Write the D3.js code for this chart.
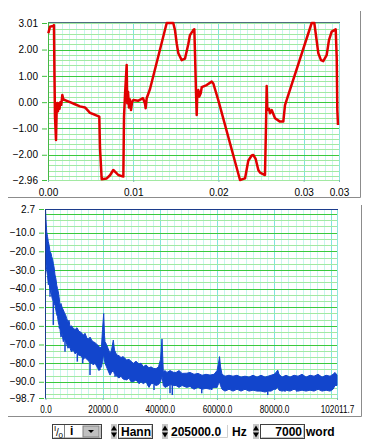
<!DOCTYPE html>
<html>
<head>
<meta charset="utf-8">
<script src="https://cdn.jsdelivr.net/npm/d3@7"></script>
<style>
  body { margin: 0; background: #fff; }
  svg { display: block; font-family: "Liberation Sans", Arial, sans-serif; }
</style>
</head>
<body>
<div id="chart"></div>
<script>
// acquisition settings shown in the control row
const sampleRate = 205000.0;
const wordCount = 7000;
const windowName = "Hann";
const freqEnd = 102011.7;

// time signal (s, value)
const sigTime = [
  0.00004,0.00023,0.00062,0.00070,0.00076,0.00082,0.00094,0.00101,0.00109,0.00117,
  0.00126,0.00135,0.00144,0.00156,0.00168,0.00180,0.00199,0.00258,0.00317,0.00375,
  0.00434,0.00493,0.00551,0.00602,0.00610,0.00630,0.00689,0.00728,0.00766,0.00798,
  0.00825,0.00884,0.00892,0.00904,0.00923,0.00930,0.00939,0.00950,0.00962,0.00974,
  0.00986,0.01001,0.01056,0.01115,0.01138,0.01146,0.01158,0.01197,0.01393,0.01470,
  0.01490,0.01510,0.01529,0.01569,0.01608,0.01646,0.01666,0.01705,0.01717,0.01725,
  0.01737,0.01745,0.01752,0.01764,0.01775,0.01792,0.01804,0.01862,0.01921,0.01940,
  0.01998,0.02253,0.02312,0.02350,0.02390,0.02409,0.02437,0.02468,0.02488,0.02546,
  0.02558,0.02566,0.02573,0.02593,0.02605,0.02625,0.02664,0.02722,0.02761,0.02781,
  0.03094,0.03125,0.03153,0.03172,0.03203,0.03230,0.03270,0.03297,0.03329,0.03376,
  0.03388,0.03395,0.03403
];
const sigValue = [
  2.62,2.87,2.90,2.93,1.00,-0.55,-1.44,-0.40,-0.03,-0.35,
  -0.05,-0.25,0.00,-0.10,0.27,0.10,0.08,0.00,-0.08,-0.16,
  -0.20,-0.41,-0.48,-0.55,-1.74,-2.93,-2.90,-2.78,-2.58,-2.68,
  -2.77,-2.83,-0.55,0.30,1.41,-0.04,0.40,-0.20,0.10,-0.30,
  0.00,0.08,0.05,0.15,-0.05,-0.23,0.15,0.50,3.01,3.01,
  2.74,2.24,1.86,1.60,1.66,2.20,2.55,2.74,2.77,1.86,
  0.35,-0.49,0.34,0.46,0.21,0.34,0.57,0.65,0.78,0.71,
  0.08,-2.96,-2.90,-2.23,-2.03,-2.01,-2.16,-2.58,-2.68,-2.77,
  -0.93,0.61,-0.30,-0.25,-0.42,-0.30,-0.61,-0.74,-0.74,-0.11,
  3.01,3.01,2.33,1.86,1.60,1.56,1.79,2.36,2.68,2.77,
  1.67,-0.30,-0.87
];

// spectrum band (Hz, upper dB, lower dB)
const specFreq = [
  0,175,420,700,980,1295,1575,1925,2170,2450,
  2730,3045,3325,3675,3920,4200,4480,4795,5075,5425,
  5775,6230,6650,7000,7420,7875,8225,8575,9100,9730,
  10325,11025,11725,12075,12775,13230,13825,14525,15225,15575,
  16275,16730,17325,18025,18725,19075,19600,19950,20370,20650,
  20825,21350,21875,22575,23100,23730,24150,24920,25725,26425,
  27125,28420,29225,29925,30730,31675,32725,33425,34230,35175,
  36225,36925,37730,38675,39550,40250,40775,41230,41825,42525,
  43575,44730,45675,46725,47775,49420,50575,51975,53375,54775,
  56175,57575,58975,60025,60550,60900,61250,61775,62825,64225,
  65625,67025,68425,69825,71225,72625,74025,75425,76825,77875,
  78925,79975,80675,81270,81725,82775,84175,85575,86975,88375,
  89775,91175,92575,93975,95375,96775,98175,99575,100625,101325,
  102010
];
const specHigh = [
  2.7,-3,-9.5,-12,-14.8,-17,-20.2,-21,-22.9,-24,
  -26.4,-29,-32.7,-35,-38.1,-40,-41.7,-45,-48.8,-48,
  -50,-51.5,-53,-54,-56,-58,-57,-60.4,-60,-61.3,
  -62,-61,-63,-63.1,-64,-65,-64,-66.7,-67,-66,
  -68,-68.5,-69,-70,-71,-72,-71,-62,-53.3,-65,
  -68.5,-70,-72,-74.7,-73,-67.6,-73,-75.6,-76,-77,
  -76.5,-78.3,-78,-79,-80.1,-79,-80.5,-80,-81.9,-81,
  -82.5,-82,-82.8,-83,-82,-78,-67,-84.6,-84,-85,
  -84,-84.9,-85,-84,-85.5,-85.4,-85,-86,-85.5,-86.5,
  -86,-86.4,-86,-84,-80,-76.5,-82,-86,-87,-86.5,
  -87,-86.5,-87.5,-87,-87.5,-86.5,-87.5,-86.5,-87.5,-87,
  -86.5,-86,-85,-83.7,-86,-87.5,-86.5,-87.5,-86.5,-87,
  -86,-87.5,-86.5,-87,-86,-87.5,-86.5,-87,-86,-85,
  -86.4
];
const specLow = [
  -27,-27,-30,-33,-38,-36,-43,-40,-44,-46,
  -47,-48,-49,-52,-54,-55,-58,-60,-62,-66,
  -64,-68.5,-67,-68,-70,-72,-71,-72,-74,-73,
  -75,-74,-76,-75.6,-77,-78,-77,-78,-79,-80,
  -80,-81,-80,-82,-84,-82.8,-82,-79,-75,-79,
  -80,-82,-84,-86.4,-85,-84,-86,-87,-88,-87,
  -88.5,-89,-88,-90,-90,-89,-91,-90,-91,-90,
  -93,-91,-91,-92,-91.5,-90,-87,-92,-93,-92.5,
  -91.5,-92,-92,-93,-92,-93,-92.5,-94,-93,-94,
  -93.5,-94,-93,-93,-91,-90,-92,-94,-95,-94,
  -95,-94,-95,-94,-95,-94.5,-95,-95,-95.5,-95,
  -95,-94,-94,-93,-94.5,-95,-94.5,-95,-94,-95,
  -94.5,-95,-94.5,-95,-94,-95,-94.5,-95,-94,-92,
  -92
];

// downward noise spikes of the spectrum (Hz, dB)
const spikeFreq = [1575,2730,4830,6825,9975,11130,13020,15575,19075,24325,25830,35980,37975,
  43575,44380,51170,54670,58170,62230,63420,69825,77770,83825,87920,93730,97825];
const spikeDb = [-44.4,-59.5,-61.3,-73.9,-73.9,-79.2,-80.1,-86.4,-83.7,-87.3,-87.8,-90.8,-94.4,
  -96.2,-97.1,-93.5,-96.2,-94.4,-94.4,-94.4,-94.4,-97.1,-95.3,-95.3,-94.4,-94.4];

// tick labels
const timeEnd = wordCount / sampleRate;
const topYTicks = [3.01, 2, 1, 0, -1, -2, -2.96];
const topXTicks = [0, 0.01, 0.02, 0.03, timeEnd];
const botYTicks = [2.7, -10, -20, -30, -40, -50, -60, -70, -80, -90, -98.7];
const botXTicks = [0, 20000, 40000, 60000, 80000, freqEnd];

const svg = d3.select("#chart").append("svg")
  .attr("width", 374)
  .attr("height", 448);

function drawGrid(g, x, y, vMinor, vMajor, hMinor, hMajor) {
  const [y0, y1] = y.range();
  const [x0, x1] = x.range();
  const v = (cls, data, color) => g.selectAll("." + cls).data(data).join("line")
    .attr("class", cls)
    .attr("x1", d => Math.round(x(d)) + 0.5).attr("x2", d => Math.round(x(d)) + 0.5)
    .attr("y1", y0).attr("y2", y1)
    .attr("stroke", color);
  const h = (cls, data, color) => g.selectAll("." + cls).data(data).join("line")
    .attr("class", cls)
    .attr("y1", d => Math.round(y(d)) + 0.5).attr("y2", d => Math.round(y(d)) + 0.5)
    .attr("x1", x0).attr("x2", x1)
    .attr("stroke", color);
  v("vmin", vMinor, "#c8f5ef");
  v("vmaj", vMajor, "#80e4de");
  h("hmin", hMinor, "#a2e9a2");
  h("hmaj", hMajor, "#3cc83c");
  g.selectAll("line").attr("shape-rendering", "crispEdges");
}

// ---------- top panel: signal ----------
const xT = d3.scaleLinear().domain([0, timeEnd]).range([48, 339]);
const yT = d3.scaleLinear().domain([-2.96, 3.01]).range([180, 23]);

const gTop = svg.append("g");
drawGrid(gTop, xT, yT,
  d3.range(1, 41).map(i => i * 0.01 / 12).filter(t => t < timeEnd),
  [0.01, 0.02, 0.03],
  d3.range(-14, 16).map(i => i * 0.2),
  [-2, -1, 0, 1, 2]);

// plot borders
gTop.append("line").attr("x1", 339.5).attr("x2", 339.5).attr("y1", 23).attr("y2", 180).attr("stroke", "#8fe6e0");
gTop.append("line").attr("x1", 48).attr("x2", 340).attr("y1", 180.5).attr("y2", 180.5).attr("stroke", "#a2e9a2");
gTop.append("line").attr("x1", 48).attr("x2", 340).attr("y1", 22.5).attr("y2", 22.5).attr("stroke", "#4d6e80");
gTop.append("line").attr("x1", 48.5).attr("x2", 48.5).attr("y1", 22).attr("y2", 181).attr("stroke", "#44b844");

gTop.append("path")
  .datum(d3.zip(sigTime, sigValue))
  .attr("fill", "none")
  .attr("stroke", "#e00000")
  .attr("stroke-width", 2.5)
  .attr("stroke-linejoin", "round")
  .attr("d", d3.line().x(d => xT(d[0])).y(d => yT(d[1])));

const topY = gTop.append("g")
  .attr("transform", "translate(47,0)")
  .call(d3.axisLeft(yT).tickValues(topYTicks).tickFormat(d3.format(".2f")).tickSize(5).tickPadding(4));
const topX = gTop.append("g")
  .attr("transform", "translate(0,180)")
  .call(d3.axisBottom(xT).tickValues(topXTicks).tickFormat(d3.format(".2f")).tickSize(2).tickPadding(7));

// ---------- bottom panel: spectrum ----------
const xF = d3.scaleLinear().domain([0, freqEnd]).range([45.5, 337]);
const yF = d3.scaleLinear().domain([-98.7, 2.7]).range([398, 209]);

const gBot = svg.append("g");
drawGrid(gBot, xF, yF,
  d3.range(1, 41).map(i => i * 2500).filter(f => f < freqEnd),
  [20000, 40000, 60000, 80000, 100000],
  d3.range(0, 30).map(i => -i * 10 / 3),
  d3.range(0, 10).map(i => -i * 10));

gBot.append("line").attr("x1", 337.5).attr("x2", 337.5).attr("y1", 209).attr("y2", 398).attr("stroke", "#8fe6e0");
gBot.append("line").attr("x1", 45).attr("x2", 338).attr("y1", 398.5).attr("y2", 398.5).attr("stroke", "#a2e9a2");

const spec = specFreq.map((f, i) => ({ f, hi: specHigh[i], lo: specLow[i] }));
gBot.append("path")
  .datum(spec)
  .attr("fill", "#1245cc")
  .attr("stroke", "#1245cc")
  .attr("stroke-width", 1)
  .attr("d", d3.area().x(d => xF(d.f)).y0(d => yF(d.lo)).y1(d => yF(d.hi)));

const lowAt = f => {
  const i = Math.max(1, d3.bisectLeft(specFreq, f));
  const t = (f - specFreq[i - 1]) / (specFreq[i] - specFreq[i - 1]);
  return specLow[i - 1] + t * (specLow[i] - specLow[i - 1]);
};
gBot.selectAll(".spike").data(d3.zip(spikeFreq, spikeDb)).join("line")
  .attr("class", "spike")
  .attr("x1", d => xF(d[0])).attr("x2", d => xF(d[0]))
  .attr("y1", d => yF(d[1])).attr("y2", d => yF(lowAt(d[0])))
  .attr("stroke", "#1245cc")
  .attr("stroke-width", 1.5);

gBot.append("line").attr("x1", 45).attr("x2", 338).attr("y1", 209.5).attr("y2", 209.5).attr("stroke", "#1c3c8c");
gBot.append("line").attr("x1", 45.5).attr("x2", 45.5).attr("y1", 209).attr("y2", 399).attr("stroke", "#1c3c8c");

const botY = gBot.append("g")
  .attr("transform", "translate(44,0)")
  .call(d3.axisLeft(yF).tickValues(botYTicks).tickFormat(d3.format(".1f")).tickSize(5).tickPadding(4));
const botX = gBot.append("g")
  .attr("transform", "translate(0,398)")
  .call(d3.axisBottom(xF).tickValues(botXTicks).tickFormat(d3.format(".1f")).tickSize(2).tickPadding(6));
botX.selectAll("text").attr("transform", "scale(0.82,1)");

// axis styling
[topY, botY].forEach(a => {
  a.select(".domain").remove();
  a.selectAll(".tick line").attr("stroke", "#40c040");
});
[topX, botX].forEach(a => {
  a.select(".domain").remove();
  a.selectAll(".tick line").attr("stroke", "#7fb8b8");
});
svg.selectAll(".tick text").attr("fill", "#000").style("font-size", "10px")
  .style("font-family", '"Liberation Sans", Arial, sans-serif');

// panel frames
const frame = [[8, 197.5, 360.5, 197.5], [360.5, 11, 360.5, 197.5],
  [8, 416.5, 361.5, 416.5], [361.5, 205, 361.5, 416.5]];
svg.selectAll(".frame").data(frame).join("line")
  .attr("x1", d => d[0]).attr("y1", d => d[1]).attr("x2", d => d[2]).attr("y2", d => d[3])
  .attr("stroke", "#8c8c8c");

// ---------- control row ----------
const ctl = svg.append("g").style("font-size", "12px").style("font-weight", "bold");

function spinner(x) {
  ctl.append("rect").attr("x", x).attr("y", 424).attr("width", 6).attr("height", 15).attr("fill", "#c8c8c8");
  ctl.append("path").attr("d", `M${x},${430.5}L${x + 6},${430.5}L${x + 3},${425.5}Z`).attr("fill", "#000");
  ctl.append("path").attr("d", `M${x},${432.5}L${x + 6},${432.5}L${x + 3},${437.5}Z`).attr("fill", "#000");
}
function sunken(x, w) {
  ctl.append("rect").attr("x", x + 0.5).attr("y", 424.5).attr("width", w).attr("height", 14)
    .attr("fill", "#fff").attr("stroke", "#404040");
  ctl.append("path").attr("d", `M${x + 1.5},${437.5}L${x + w - 0.5},${437.5}L${x + w - 0.5},${425.5}`)
    .attr("fill", "none").attr("stroke", "#c0c0c0");
}

// output type selector
sunken(52, 49);
ctl.append("line").attr("x1", 64.5).attr("x2", 64.5).attr("y1", 425).attr("y2", 438).attr("stroke", "#808080");
ctl.append("text").attr("x", 54).attr("y", 431).style("font-size", "8px").style("font-weight", "normal").text("I");
ctl.append("text").attr("x", 56).attr("y", 436).style("font-size", "10px").style("font-weight", "normal").text("/");
ctl.append("text").attr("x", 58.5).attr("y", 438).style("font-size", "8px").style("font-weight", "normal").text("0");
ctl.append("text").attr("x", 70).attr("y", 435).text("i");
ctl.append("rect").attr("x", 83).attr("y", 426).attr("width", 16).attr("height", 11)
  .attr("fill", "#c0c0c0").attr("stroke", "#808080");
ctl.append("path").attr("d", "M88,430L94,430L91,433Z").attr("fill", "#000");

spinner(111);
sunken(118, 34);
ctl.append("text").attr("x", 121).attr("y", 435.5).text(windowName);

spinner(162);
ctl.append("text").attr("x", 171).attr("y", 435.5).text(d3.format(".1f")(sampleRate));
ctl.append("path").attr("d", "M171,437.5L227.5,437.5L227.5,425").attr("fill", "none").attr("stroke", "#d0d0d0");
ctl.append("text").attr("x", 232).attr("y", 435.5).text("Hz");

spinner(253);
sunken(260, 44);
ctl.append("text").attr("x", 302).attr("y", 435.5).attr("text-anchor", "end").text(wordCount);
ctl.append("text").attr("x", 306).attr("y", 435.5).text("word");
</script>
</body>
</html>
